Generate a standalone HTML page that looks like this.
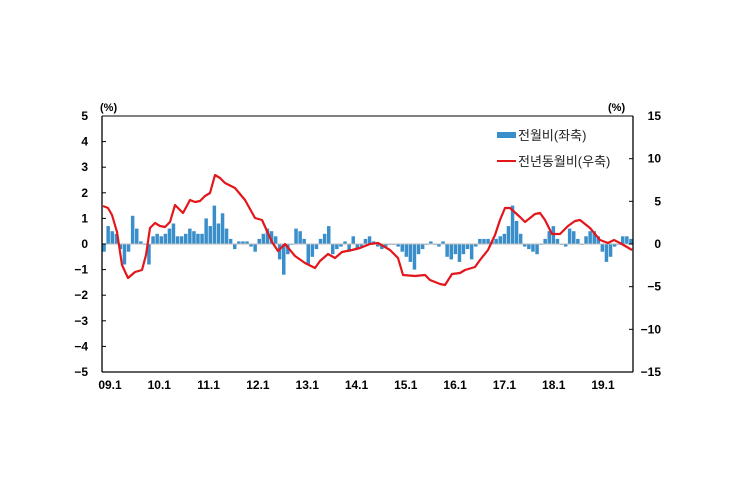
<!DOCTYPE html>
<html><head><meta charset="utf-8"><style>
html,body{margin:0;padding:0;background:#fff;}
svg{display:block;font-family:"Liberation Sans","Noto Sans CJK KR",sans-serif;}
</style></head><body>
<svg id="c" width="747" height="497" xmlns="http://www.w3.org/2000/svg">
<rect width="747" height="497" fill="#fff"/>
<g id="bars" fill="#3a8fcb"></g>
<line x1="102" y1="244" x2="633" y2="244" stroke="#bbb" stroke-width="1"/>
<polyline id="ln" fill="none" stroke="#e3161b" stroke-width="2.2" stroke-linejoin="round"/>
<g id="ax" stroke="#000" stroke-width="1.3"></g>
<g id="tx" font-size="12" font-weight="bold" fill="#000"></g>
<text x="100" y="111" font-size="11" font-weight="bold">(%)</text>
<text x="608" y="111" font-size="11" font-weight="bold">(%)</text>
<rect x="497" y="132" width="19" height="6" fill="#3a8fcb"/>
<text x="518" y="140" font-size="13" fill="#222">전월비(좌축)</text>
<line x1="497" y1="161" x2="516" y2="161" stroke="#e3161b" stroke-width="2"/>
<text x="518" y="166" font-size="13" fill="#222">전년동월비(우축)</text>
</svg>
<script>
var ns="http://www.w3.org/2000/svg";
function el(p,t,a,txt){var e=document.createElementNS(ns,t);for(var k in a)e.setAttribute(k,a[k]);if(txt!=null)e.textContent=txt;document.getElementById(p).appendChild(e);}
var L=102,R=633,T=116,B=372,Z=244;
var v=[-0.3,0.7,0.5,0.4,-0.2,-0.8,-0.3,1.1,0.6,0.1,0.0,-0.8,
0.3,0.4,0.3,0.4,0.6,0.8,0.3,0.3,0.4,0.6,0.5,0.4,
0.4,1.0,0.7,1.5,0.8,1.2,0.6,0.2,-0.2,0.1,0.1,0.1,
-0.1,-0.3,0.2,0.4,0.6,0.5,0.3,-0.6,-1.2,-0.4,0.0,0.6,
0.5,0.2,-0.8,-0.5,-0.2,0.2,0.4,0.7,-0.4,-0.2,-0.1,0.1,
-0.3,0.3,-0.2,-0.1,0.2,0.3,0.1,-0.1,-0.2,-0.1,0.0,0.0,
-0.1,-0.3,-0.5,-0.7,-1.0,-0.4,-0.2,0.0,0.1,0.0,-0.1,0.1,
-0.5,-0.6,-0.4,-0.7,-0.4,-0.2,-0.6,-0.1,0.2,0.2,0.2,0.1,
0.2,0.3,0.4,0.7,1.5,0.9,0.4,-0.1,-0.2,-0.3,-0.4,0.0,
0.2,0.5,0.7,0.2,0.0,-0.1,0.6,0.5,0.2,0.0,0.3,0.5,
0.5,0.3,-0.3,-0.7,-0.5,-0.1,0.0,0.3,0.3,0.2];
var n=v.length,w=(R-L)/n;
for(var i=0;i<n;i++){var h=v[i]*25.6;el("bars","rect",{x:(L+i*w+0.3).toFixed(1),y:(h>0?Z-h:Z).toFixed(1),width:(w-0.6).toFixed(1),height:Math.max(Math.abs(h),0.8).toFixed(1)});}
var pts=[[103,206],[108,208],[112,215],[117,232],[122,265],[128,278],[135,272],[142,270],[146,255],[150,228],[155,223],[160,226],[165,227],[170,222],[175,205],[180,210],[183,213],[190,200],[195,202],[200,201],[205,196],[210,193],[215,175],[220,178],[225,183],[235,188],[245,200],[255,218],[262,220],[272,242],[278,251],[285,244],[295,256],[305,263],[315,268],[320,261],[328,254],[335,258],[342,252],[352,250],[360,248],[370,244],[378,243],[390,250],[398,258],[403,275],[415,276],[425,275],[430,280],[440,284],[445,285],[452,274],[460,273],[465,270],[475,267],[480,260],[488,250],[495,235],[500,220],[505,208],[510,208],[520,217],[525,222],[535,214],[540,213],[545,220],[552,234],[560,234],[568,226],[575,221],[580,220],[590,228],[600,240],[608,243],[614,240],[620,243],[632,250]];
document.getElementById("ln").setAttribute("points",pts.map(function(p){return p.join(",")}).join(" "));
el("ax","line",{x1:L,y1:T,x2:L,y2:B});
el("ax","line",{x1:R,y1:T,x2:R,y2:B});
el("ax","line",{x1:L,y1:B,x2:R,y2:B});
el("ax","line",{x1:L,y1:T,x2:R,y2:T,"stroke-width":1});
for(var k=0;k<=10;k++){var y=T+k*(B-T)/10;
el("ax","line",{x1:L,y1:y,x2:L+4,y2:y,"stroke-width":1});
el("tx","text",{x:88,y:y+4,"text-anchor":"end"},String(5-k).replace("-","−"));}
for(var k=0;k<=6;k++){var y=T+k*(B-T)/6;
el("ax","line",{x1:R-4,y1:y,x2:R,y2:y,"stroke-width":1});
el("tx","text",{x:661,y:y+4,"text-anchor":"end"},String(15-5*k).replace("-","−"));}
var labs=["09.1","10.1","11.1","12.1","13.1","14.1","15.1","16.1","17.1","18.1","19.1"];
for(var k=0;k<labs.length;k++){el("tx","text",{x:110+k*49.3,y:389,"text-anchor":"middle"},labs[k]);}
</script>
</body></html>
